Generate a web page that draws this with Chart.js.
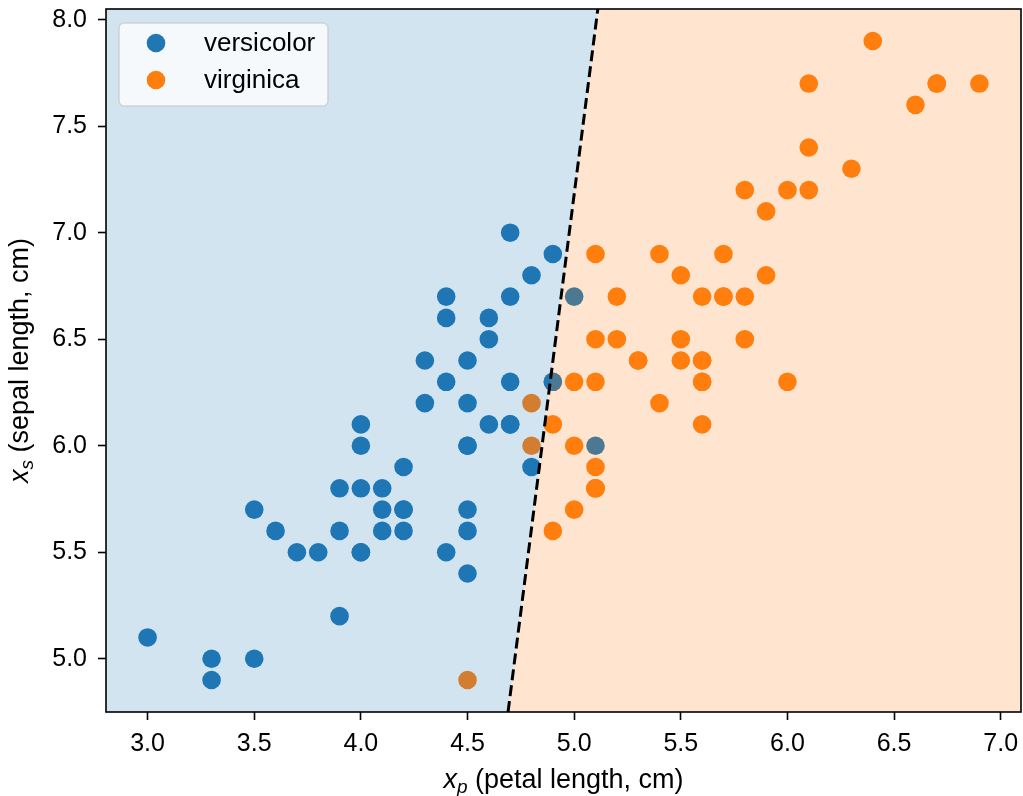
<!DOCTYPE html>
<html>
<head>
<meta charset="utf-8">
<title>Iris: versicolor vs virginica</title>
<script src="https://cdn.jsdelivr.net/npm/chart.js@4/dist/chart.umd.min.js"></script>
<style>
  html, body { margin: 0; padding: 0; background: #fff; }
  #wrap { width: 1023px; height: 796px; position: relative; }
</style>
</head>
<body>
<div id="wrap"><canvas id="irisChart" width="1023" height="796"></canvas></div>
<script>
// petal length / sepal length (cm) for the two species
const versicolorPetal = [4.7, 4.5, 4.9, 4.0, 4.6, 4.5, 4.7, 3.3, 4.6, 3.9, 3.5, 4.2, 4.0, 4.7, 3.6, 4.4, 4.5, 4.1, 4.5, 3.9,
  4.8, 4.0, 4.9, 4.7, 4.3, 4.4, 4.8, 5.0, 4.5, 3.5, 3.8, 3.7, 3.9, 5.1, 4.5, 4.5, 4.7, 4.4, 4.1, 4.0,
  4.4, 4.6, 4.0, 3.3, 4.2, 4.2, 4.2, 4.3, 3.0, 4.1];
const versicolorSepal = [7.0, 6.4, 6.9, 5.5, 6.5, 5.7, 6.3, 4.9, 6.6, 5.2, 5.0, 5.9, 6.0, 6.1, 5.6, 6.7, 5.6, 5.8, 6.2, 5.6,
  5.9, 6.1, 6.3, 6.1, 6.4, 6.6, 6.8, 6.7, 6.0, 5.7, 5.5, 5.5, 5.8, 6.0, 5.4, 6.0, 6.7, 6.3, 5.6, 5.5,
  5.5, 6.1, 5.8, 5.0, 5.6, 5.7, 5.7, 6.2, 5.1, 5.7];
const virginicaPetal = [6.0, 5.1, 5.9, 5.6, 5.8, 6.6, 4.5, 6.3, 5.8, 6.1, 5.1, 5.3, 5.5, 5.0, 5.1, 5.3, 5.5, 6.7, 6.9, 5.0,
  5.7, 4.9, 6.7, 4.9, 5.7, 6.0, 4.8, 4.9, 5.6, 5.8, 6.1, 6.4, 5.6, 5.1, 5.6, 6.1, 5.6, 5.5, 4.8, 5.4,
  5.6, 5.1, 5.1, 5.9, 5.7, 5.2, 5.0, 5.2, 5.4, 5.1];
const virginicaSepal = [6.3, 5.8, 7.1, 6.3, 6.5, 7.6, 4.9, 7.3, 6.7, 7.2, 6.5, 6.4, 6.8, 5.7, 5.8, 6.4, 6.5, 7.7, 7.7, 6.0,
  6.9, 5.6, 7.7, 6.3, 6.7, 7.2, 6.2, 6.1, 6.4, 7.2, 7.4, 7.9, 6.4, 6.3, 6.1, 7.7, 6.3, 6.4, 6.0, 6.9,
  6.7, 6.9, 5.8, 6.8, 6.7, 6.7, 6.3, 6.5, 6.2, 5.9];

// decision boundary end points (petal, sepal)
const boundaryPetal = [4.690, 5.111];
const boundarySepal = [4.75, 8.05];

const xTicks = [3.0, 3.5, 4.0, 4.5, 5.0, 5.5, 6.0, 6.5, 7.0];
const yTicks = [5.0, 5.5, 6.0, 6.5, 7.0, 7.5, 8.0];

const BLUE = '#1f77b4';
const ORANGE = '#ff7f0e';
const FONT = '"Liberation Sans", Arial, Helvetica, sans-serif';

function toPoints(xs, ys) {
  return xs.map((x, i) => ({ x: x, y: ys[i] }));
}

// shaded half planes, dashed boundary and the axes frame
const regionPlugin = {
  id: 'regions',
  afterDatasetsDraw(chart) {
    const { ctx, chartArea: a, scales: { x, y } } = chart;
    const bx0 = x.getPixelForValue(boundaryPetal[0]);
    const by0 = y.getPixelForValue(boundarySepal[0]);
    const bx1 = x.getPixelForValue(boundaryPetal[1]);
    const by1 = y.getPixelForValue(boundarySepal[1]);
    ctx.save();
    ctx.beginPath();
    ctx.rect(a.left, a.top, a.right - a.left, a.bottom - a.top);
    ctx.clip();

    ctx.fillStyle = 'rgba(31, 119, 180, 0.2)';
    ctx.beginPath();
    ctx.moveTo(a.left, by0);
    ctx.lineTo(bx0, by0);
    ctx.lineTo(bx1, by1);
    ctx.lineTo(a.left, by1);
    ctx.closePath();
    ctx.fill();

    ctx.fillStyle = 'rgba(255, 127, 14, 0.2)';
    ctx.beginPath();
    ctx.moveTo(bx0, by0);
    ctx.lineTo(a.right, by0);
    ctx.lineTo(a.right, by1);
    ctx.lineTo(bx1, by1);
    ctx.closePath();
    ctx.fill();

    ctx.strokeStyle = '#000';
    ctx.lineWidth = 3;
    ctx.setLineDash([11, 5]);
    ctx.beginPath();
    ctx.moveTo(bx0, by0);
    ctx.lineTo(bx1, by1);
    ctx.stroke();
    ctx.restore();

    ctx.save();
    ctx.strokeStyle = '#000';
    ctx.lineWidth = 1.6;
    ctx.strokeRect(a.left, a.top, a.right - a.left, a.bottom - a.top);
    ctx.restore();
  },
  afterDraw(chart) {
    const { ctx, chartArea: a } = chart;
    ctx.save();

    // legend box in the upper left corner
    const lx = 119, ly = 23, lw = 209, lh = 83;
    ctx.fillStyle = 'rgba(255, 255, 255, 0.8)';
    ctx.strokeStyle = 'rgba(204, 204, 204, 0.8)';
    ctx.lineWidth = 1.6;
    ctx.beginPath();
    ctx.roundRect(lx, ly, lw, lh, 5);
    ctx.fill();
    ctx.stroke();
    ctx.font = '26px ' + FONT;
    ctx.textBaseline = 'middle';
    ctx.textAlign = 'left';
    chart.data.datasets.forEach((ds, i) => {
      const cy = 43 + i * 37;
      ctx.fillStyle = ds.backgroundColor;
      ctx.beginPath();
      ctx.arc(156, cy, 9.3, 0, Math.PI * 2);
      ctx.fill();
      ctx.fillStyle = '#000';
      ctx.fillText(ds.label, 204, cy + 1);
    });

    // axis titles with an italic subscripted symbol; (cx, base) is the baseline centre
    function title(sym, sub, rest, cx, base, rot) {
      ctx.save();
      ctx.translate(cx, base);
      ctx.rotate(rot);
      ctx.fillStyle = '#000';
      ctx.textBaseline = 'alphabetic';
      ctx.textAlign = 'left';
      ctx.font = 'italic 27px ' + FONT;
      const w1 = ctx.measureText(sym).width;
      ctx.font = 'italic 19px ' + FONT;
      const w2 = ctx.measureText(sub).width;
      ctx.font = '27px ' + FONT;
      const w3 = ctx.measureText(rest).width;
      const x0 = -(w1 + w2 + w3) / 2;
      ctx.font = 'italic 27px ' + FONT;
      ctx.fillText(sym, x0, 0);
      ctx.font = 'italic 19px ' + FONT;
      ctx.fillText(sub, x0 + w1, 5);
      ctx.font = '27px ' + FONT;
      ctx.fillText(rest, x0 + w1 + w2, 0);
      ctx.restore();
    }
    title('x', 'p', ' (petal length, cm)', (a.left + a.right) / 2, 788, 0);
    title('x', 's', ' (sepal length, cm)', 28, (a.top + a.bottom) / 2, -Math.PI / 2);
    ctx.restore();
  }
};

const tickFmt = v => Number(v).toFixed(1);

new Chart(document.getElementById('irisChart'), {
  type: 'scatter',
  data: {
    datasets: [
      {
        label: 'versicolor',
        data: toPoints(versicolorPetal, versicolorSepal),
        backgroundColor: BLUE,
        borderWidth: 0,
        pointRadius: 9.3,
        pointHoverRadius: 9.3
      },
      {
        label: 'virginica',
        data: toPoints(virginicaPetal, virginicaSepal),
        backgroundColor: ORANGE,
        borderWidth: 0,
        pointRadius: 9.3,
        pointHoverRadius: 9.3
      }
    ]
  },
  options: {
    responsive: false,
    animation: false,
    layout: { autoPadding: false, padding: { top: 9, right: 2, left: 0, bottom: 0 } },
    plugins: {
      legend: { display: false },
      tooltip: { enabled: false }
    },
    scales: {
      x: {
        type: 'linear',
        min: 2.805,
        max: 7.095,
        afterBuildTicks: s => { s.ticks = xTicks.map(v => ({ value: v })); },
        afterFit: s => { s.height = 84; s.paddingLeft = 0; s.paddingRight = 0; },
        border: { display: false },
        grid: { drawOnChartArea: false, drawTicks: true, tickLength: 8, tickColor: '#000', tickWidth: 1.6 },
        ticks: {
          autoSkip: false, maxRotation: 0, padding: 9, color: '#000',
          font: { family: FONT, size: 25 },
          callback: tickFmt
        }
      },
      y: {
        type: 'linear',
        min: 4.75,
        max: 8.05,
        afterBuildTicks: s => { s.ticks = yTicks.map(v => ({ value: v })); },
        afterFit: s => { s.width = 106; s.paddingTop = 0; s.paddingBottom = 0; },
        border: { display: false },
        grid: { drawOnChartArea: false, drawTicks: true, tickLength: 8, tickColor: '#000', tickWidth: 1.6 },
        ticks: {
          autoSkip: false, padding: 11, color: '#000',
          font: { family: FONT, size: 25 },
          callback: tickFmt
        }
      }
    }
  },
  plugins: [regionPlugin]
});
</script>
</body>
</html>
